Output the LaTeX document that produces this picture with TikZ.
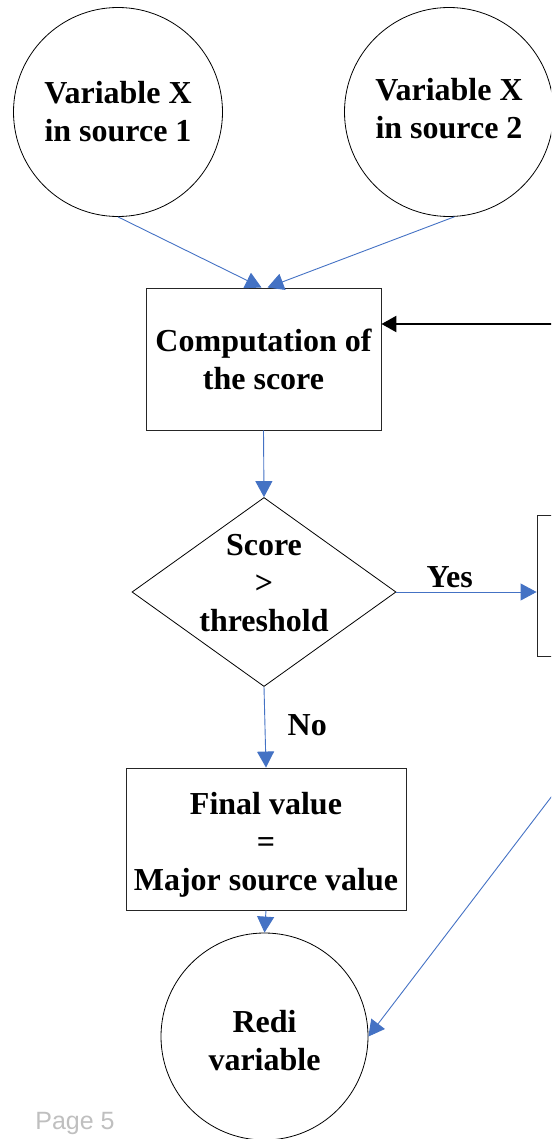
\documentclass[tikz,border=0pt]{standalone}
\usepackage{fontspec}
\setmainfont{Liberation Serif}
\newfontfamily\pagefont{Liberation Sans}
\usetikzlibrary{shapes.geometric,arrows.meta}
\definecolor{flowblue}{HTML}{4472C4}
\begin{document}
\begin{tikzpicture}[x=1pt,y=-1pt,
		txt/.style={font=\bfseries\fontsize{32}{38}\selectfont,align=center,text=black},
		varcirc/.style={draw,circle,line width=0.8pt,minimum size=209pt,inner sep=0pt,txt},
		stepbox/.style={draw=black!85,rectangle,line width=0.9pt,inner sep=0pt,txt},
		flow/.style={flowblue,line width=0.9pt,-{Triangle[length=16pt,width=17pt]}},
		back/.style={black,line width=2.4pt,-{Triangle[length=15pt,width=16pt]}}]
		
		\useasboundingbox (0,0) rectangle (551,1139);
		\clip (0,0) rectangle (551,1139);
		
		\node[varcirc] (src1) at (118,112) {Variable X\\in source 1};
		\node[varcirc] (src2) at (449,112) {\raisebox{5pt}{\begin{tabular}{@{}c@{}}Variable X\\in source 2\end{tabular}}};
		
		\node[stepbox,minimum width=235pt,minimum height=142pt] (score) at (263.5,359) {Computation of\\the score};
		\node[draw,diamond,line width=0.8pt,minimum width=264pt,minimum height=189pt,inner sep=0pt,
			label={[txt,yshift=9pt]center:{Score\\>\\threshold}}] (test) at (264,592) {};
		\node[stepbox,minimum width=243pt,minimum height=141pt] (other) at (658.5,585.5) {};
		\node[stepbox,minimum width=280pt,minimum height=142pt,
			label={[txt,yshift=-6pt]center:{Final value\\=\\Major source value}}] (final) at (266,839) {};
		\node[varcirc,minimum size=207pt,
			label={[txt,yshift=-4pt]center:{Redi\\variable}}] (redi) at (264.5,1036.5) {};
		
		\coordinate (loopin) at (560,324);
		
		\draw[flow] (src1.south) -- ([xshift=-2pt]score.north);
		\draw[flow] (src2.-87) -- ([xshift=4pt]score.north);
		\draw[back] (loopin) -- (loopin -| score.east);
		\draw[flow] (score.south) -- (test.north);
		\draw[flow] (test.east) -- (test.east -| other.west) node[txt,above,pos=0.38] {Yes};
		\draw[flow] (test.south) -- (final.north) node[txt,right=19pt,pos=0.48] {No};
		\draw[flow] (final.south) -- (redi.north);
		\draw[flow] (other.south) -- (redi.east);
		%\draw[flow] (other.south) -- (redi.north east);
		
		\node[font=\pagefont\fontsize{25}{30}\selectfont,text=black!25] (page) at (75,1123) {Page 5};
	\end{tikzpicture}
\end{document}
